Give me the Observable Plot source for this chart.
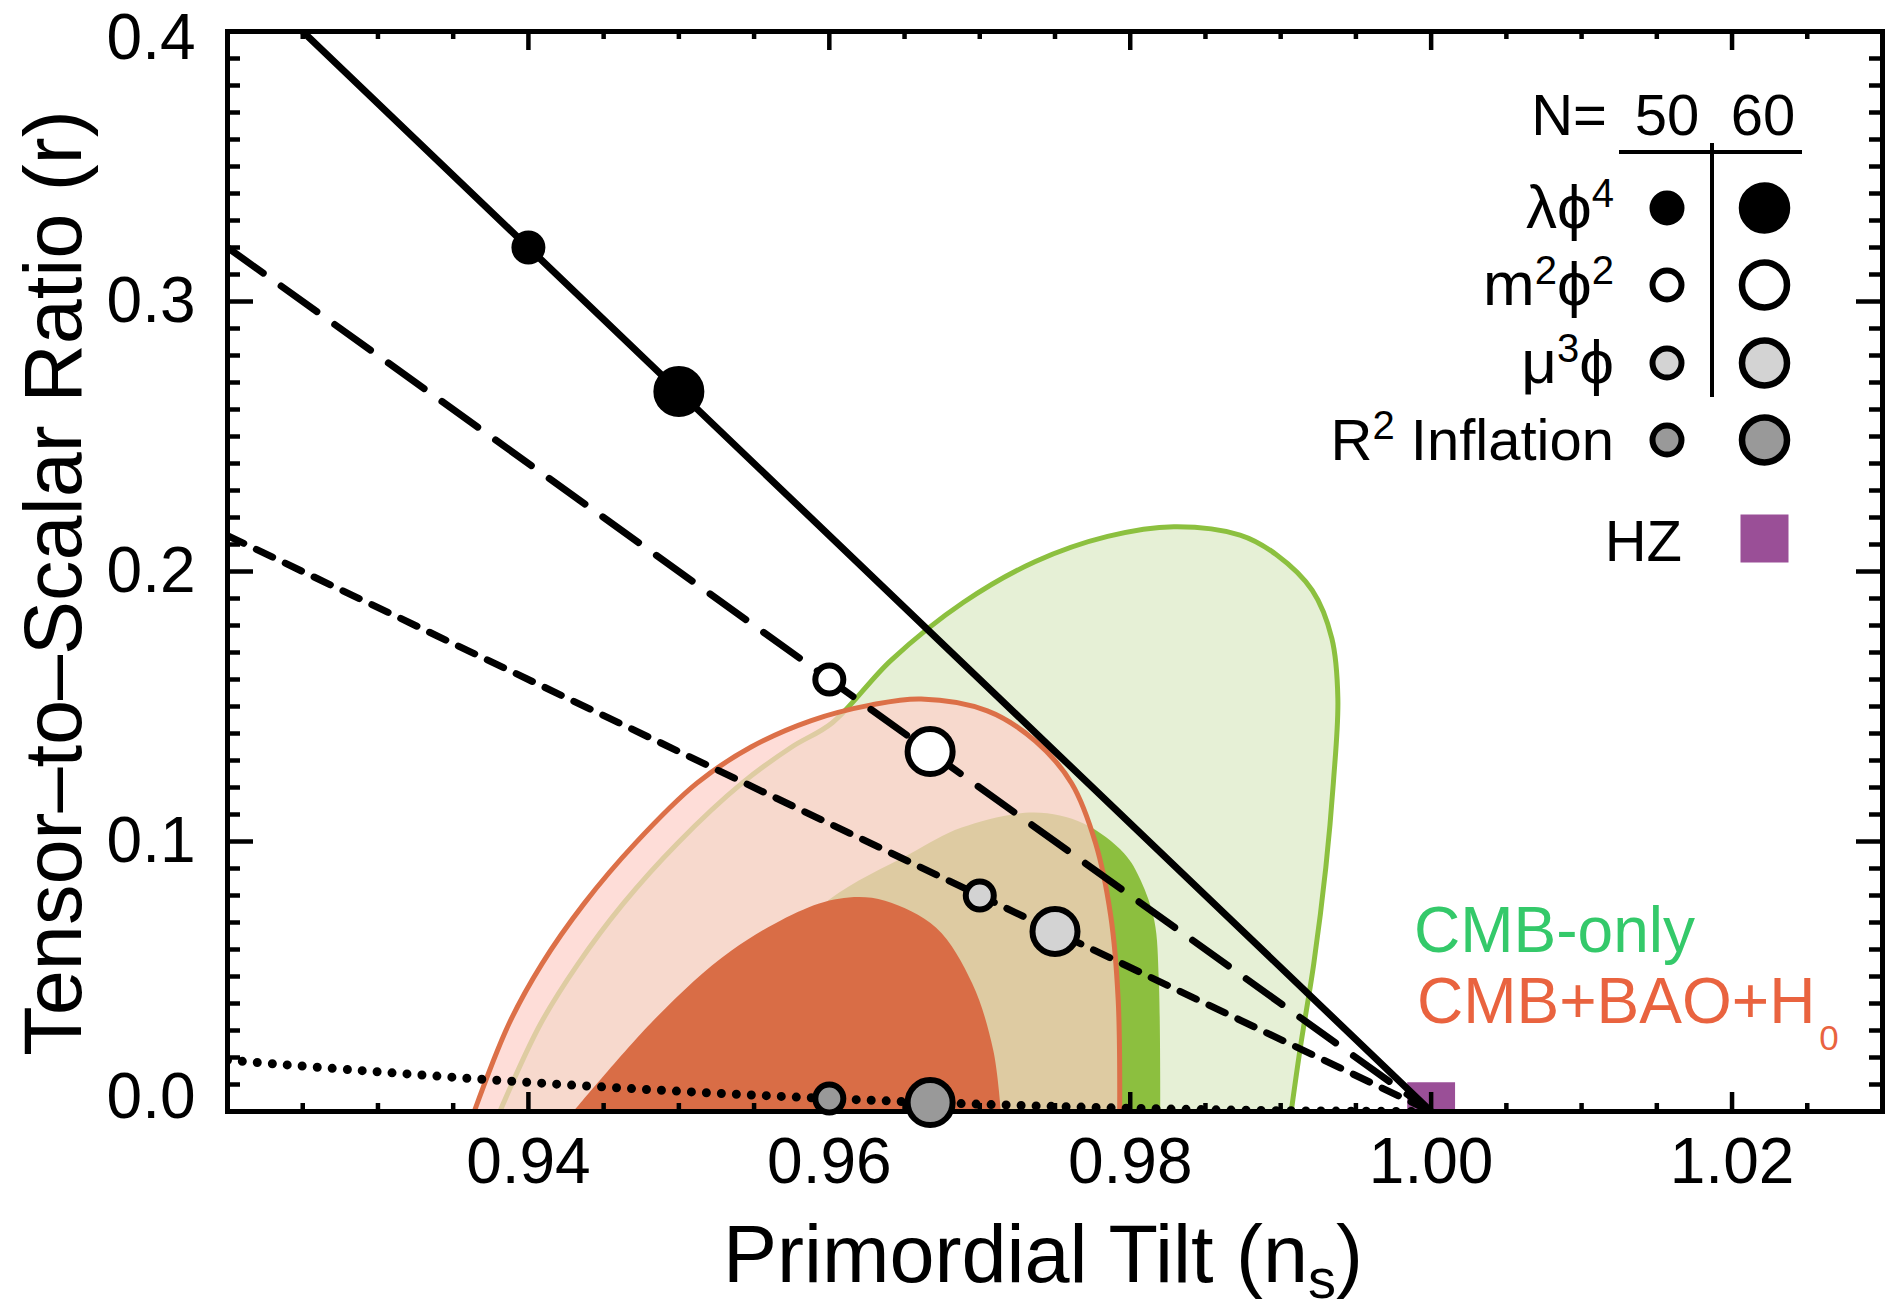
<!DOCTYPE html>
<html><head><meta charset="utf-8">
<script src="https://cdn.jsdelivr.net/npm/d3@7"></script>
<script src="https://cdn.jsdelivr.net/npm/@observablehq/plot@0.6"></script>
<style>
body{margin:0;background:#fff;}
#chart svg{display:block;}
</style></head><body><div id="chart"></div>
<script>
// ---- axes ----
const xDomain = [0.92, 1.03];
const yDomain = [0, 0.4];
const xMajor = [0.94, 0.96, 0.98, 1.00, 1.02];
const xLabels = ["0.94", "0.96", "0.98", "1.00", "1.02"];
const xMinor = [0.925, 0.93, 0.935, 0.945, 0.95, 0.955, 0.965, 0.97, 0.975, 0.985, 0.99, 0.995, 1.005, 1.01, 1.015, 1.025];
const yMajor = [0.1, 0.2, 0.3];
const yLabelVals = [0.0, 0.1, 0.2, 0.3, 0.4];
const yLabels = ["0.0", "0.1", "0.2", "0.3", "0.4"];
const yMinor = [0.01,0.02,0.03,0.04,0.05,0.06,0.07,0.08,0.09,0.11,0.12,0.13,0.14,0.15,0.16,0.17,0.18,0.19,0.21,0.22,0.23,0.24,0.25,0.26,0.27,0.28,0.29,0.31,0.32,0.33,0.34,0.35,0.36,0.37,0.38,0.39];

// ---- contours [ns, r] ----
const cmb95 = [[0.9381,0],[0.9408,0.0324],[0.9433,0.0547],[0.9463,0.077],[0.9499,0.0993],[0.9542,0.1216],[0.9575,0.135],[0.9602,0.1440],[0.9641,0.1671],[0.9689,0.1885],[0.9737,0.2037],[0.9785,0.2130],[0.9829,0.2166],[0.9873,0.2135],[0.9897,0.2063],[0.9921,0.1930],[0.9934,0.1752],[0.9938,0.1530],[0.9935,0.1216],[0.9930,0.0904],[0.9922,0.0548],[0.9913,0.0235],[0.9907,0]];
const cmb68 = [[0.9500,0],[0.9530,0.030],[0.9565,0.058],[0.9600,0.0785],[0.9654,0.0956],[0.9688,0.1052],[0.9736,0.1107],[0.9769,0.1067],[0.9796,0.0956],[0.9807,0.0856],[0.9816,0.0707],[0.9819,0.0485],[0.9820,0]];
const bao95 = [[0.9364,0],[0.9387,0.0324],[0.9409,0.0547],[0.9437,0.077],[0.9471,0.0993],[0.9512,0.1216],[0.9548,0.135],[0.9588,0.1448],[0.9628,0.1506],[0.9661,0.1528],[0.9705,0.1484],[0.9737,0.1372],[0.9761,0.1216],[0.9777,0.0993],[0.9787,0.0726],[0.9792,0.0413],[0.9793,0]];
const bao68 = [[0.9430,0],[0.9485,0.0348],[0.9535,0.0596],[0.9586,0.0756],[0.9613,0.0793],[0.9637,0.0781],[0.9671,0.0681],[0.9695,0.0474],[0.9709,0.0226],[0.9714,0]];

// ---- model lines [ns, r] ----
const linePhi4 = [[0.925,0.4],[1.0,0]];
const linePhi2 = [[0.92,0.32],[1.0,0]];
const linePhi1 = [[0.92,0.2133],[1.0,0]];
const lineR2 = [[0.92,0.019],[0.93,0.0147],[0.94,0.0108],[0.95,0.0075],[0.96,0.0048],[0.97,0.0027],[0.98,0.0012],[0.99,0.0003],[1.0,0]];

// ---- model points ----
const models = ["λϕ4", "m2ϕ2", "μ3ϕ", "R2"];
const modelFill = ["#000000", "#ffffff", "#d3d3d3", "#999999"];
const ns50 = [0.94, 0.96, 0.97, 0.96];
const r50 = [0.32, 0.16, 0.08, 0.0048];
const ns60 = [0.95, 0.9667, 0.975, 0.9667];
const r60 = [0.2667, 0.1333, 0.0667, 0.0033];
const hzPoint = [[1.0, 0.002]];

const W = 1888, H = 1310, mL = 227, mR = 6, mT = 31, mB = 199;
const frameW = W - mL - mR, frameH = H - mT - mB;
const FONT = "Liberation Sans, Helvetica, Arial, sans-serif";

const pts50 = models.map((m, i) => ({x: ns50[i], y: r50[i], fill: modelFill[i]}));
const pts60 = models.map((m, i) => ({x: ns60[i], y: r60[i], fill: modelFill[i]}));
const X = d => d[0], Y = d => d[1];

const chart = Plot.plot({
  width: W, height: H,
  marginLeft: mL, marginRight: mR, marginTop: mT, marginBottom: mB,
  x: {domain: xDomain, axis: null},
  y: {domain: yDomain, axis: null},
  color: {type: "identity"},
  style: {fontFamily: FONT, background: "#fff", color: "#000"},
  marks: [
    Plot.line(cmb95, {x: X, y: Y, fill: "#e6f0d6", stroke: "none", curve: "catmull-rom"}),
    Plot.line(cmb68, {x: X, y: Y, fill: "#8cbf3f", stroke: "none", curve: "catmull-rom"}),
    Plot.line(cmb95, {x: X, y: Y, fill: "none", stroke: "#8cc03f", strokeWidth: 5, curve: "catmull-rom"}),
    Plot.line(bao95, {x: X, y: Y, fill: "#fed0c9", fillOpacity: 0.72, stroke: "none", curve: "catmull-rom"}),
    Plot.line(bao95, {x: X, y: Y, fill: "none", stroke: "#dc7048", strokeWidth: 5, curve: "catmull-rom"}),
    Plot.line(bao68, {x: X, y: Y, fill: "#d96d46", stroke: "none", curve: "catmull-rom"}),
    Plot.dot(hzPoint, {x: X, y: Y, symbol: "square", r: 27, fill: "#9a4f97", stroke: "none", clip: true}),
    Plot.line(lineR2, {x: X, y: Y, stroke: "#000", strokeWidth: 9, strokeDasharray: "0 15", strokeLinecap: "round", curve: "catmull-rom", clip: true}),
    Plot.line(linePhi1, {x: X, y: Y, stroke: "#000", strokeWidth: 7, strokeDasharray: "18 14", clip: true}),
    Plot.line(linePhi2, {x: X, y: Y, stroke: "#000", strokeWidth: 7, strokeDasharray: "44 22", clip: true}),
    Plot.line(linePhi4, {x: X, y: Y, stroke: "#000", strokeWidth: 7, clip: true}),
    // ticks (inward)
    Plot.tickX(xMinor, {x: d => d, insetTop: frameH - 8, stroke: "#000", strokeWidth: 4.5}),
    Plot.tickX(xMajor, {x: d => d, insetTop: frameH - 19, stroke: "#000", strokeWidth: 4.5}),
    Plot.tickX(xMinor, {x: d => d, insetBottom: frameH - 8, stroke: "#000", strokeWidth: 4.5}),
    Plot.tickX(xMajor, {x: d => d, insetBottom: frameH - 19, stroke: "#000", strokeWidth: 4.5}),
    Plot.tickY(yMinor, {y: d => d, insetRight: frameW - 13, stroke: "#000", strokeWidth: 4.5}),
    Plot.tickY(yMajor, {y: d => d, insetRight: frameW - 26, stroke: "#000", strokeWidth: 4.5}),
    Plot.tickY(yMinor, {y: d => d, insetLeft: frameW - 13, stroke: "#000", strokeWidth: 4.5}),
    Plot.tickY(yMajor, {y: d => d, insetLeft: frameW - 26, stroke: "#000", strokeWidth: 4.5}),
    Plot.frame({stroke: "#000", strokeWidth: 5}),
    // tick labels
    Plot.text(xMajor, {x: d => d, text: (d, i) => xLabels[i], frameAnchor: "bottom", lineAnchor: "top", dy: 26, fontSize: 64, fill: "#000"}),
    Plot.text(yLabelVals.slice(1, 4), {y: d => d, text: (d, i) => yLabels[i + 1], frameAnchor: "left", textAnchor: "end", dx: -32, fontSize: 64, fill: "#000"}),
    Plot.text(yLabelVals.slice(4), {y: d => d, text: (d, i) => yLabels[i + 4], frameAnchor: "left", textAnchor: "end", dx: -32, dy: 7, fontSize: 64, fill: "#000"}),
    Plot.text(yLabelVals.slice(0, 1), {y: d => d, text: (d, i) => yLabels[i], frameAnchor: "left", textAnchor: "end", dx: -32, dy: -14, fontSize: 64, fill: "#000"}),
    // model points
    Plot.dot(pts50, {x: "x", y: "y", r: 14, fill: "fill", stroke: "#000", strokeWidth: 6}),
    Plot.dot(pts60, {x: "x", y: "y", r: 22.5, fill: "fill", stroke: "#000", strokeWidth: 6})
  ]
});
document.getElementById("chart").appendChild(chart);

// ---- titles, legend, annotations ----
const svg = d3.select(chart);
const g = svg.append("g").attr("font-family", FONT).attr("fill", "#000").attr("text-anchor", "start");

// x title
const xt = g.append("text").attr("x", 1043).attr("y", 1282).attr("text-anchor", "middle").attr("font-size", 81);
xt.append("tspan").text("Primordial Tilt (n");
xt.append("tspan").attr("font-size", 56).attr("dy", 16).text("s");
xt.append("tspan").attr("dy", -16).text(")");

// y title
g.append("text").attr("transform", "translate(81,583) rotate(-90)").attr("text-anchor", "middle").attr("font-size", 81)
  .text("Tensor–to–Scalar Ratio (r)");

// legend header
const LF = 58;
g.append("text").attr("x", 1607).attr("y", 135).attr("text-anchor", "end").attr("font-size", LF).text("N=");
g.append("text").attr("x", 1667).attr("y", 135).attr("text-anchor", "middle").attr("font-size", LF).text("50");
g.append("text").attr("x", 1763).attr("y", 135).attr("text-anchor", "middle").attr("font-size", LF).text("60");
g.append("line").attr("x1", 1619).attr("x2", 1802).attr("y1", 152).attr("y2", 152).attr("stroke", "#000").attr("stroke-width", 4);
g.append("line").attr("x1", 1712).attr("x2", 1712).attr("y1", 143).attr("y2", 397).attr("stroke", "#000").attr("stroke-width", 4);

const rowY = [208, 285, 363, 440];
const labelParts = [
  [["λϕ", 0], ["4", 1]],
  [["m", 0], ["2", 1], ["ϕ", 0], ["2", 1]],
  [["μ", 0], ["3", 1], ["ϕ", 0]],
  [["R", 0], ["2", 1], [" Inflation", 0]]
];
const SUP = 40, SUPDY = 21;
rowY.forEach((yy, i) => {
  const t = g.append("text").attr("x", 1614).attr("y", yy + 20).attr("text-anchor", "end").attr("font-size", i === 3 ? LF : 62);
  let sup = false;
  labelParts[i].forEach(([s, isSup]) => {
    const ts = t.append("tspan").text(s);
    if (isSup && !sup) { ts.attr("font-size", SUP).attr("dy", -SUPDY); sup = true; }
    else if (!isSup && sup) { ts.attr("dy", SUPDY); sup = false; }
    else if (isSup) ts.attr("font-size", SUP);
  });
  g.append("circle").attr("cx", 1667).attr("cy", yy).attr("r", 14.5).attr("fill", modelFill[i]).attr("stroke", "#000").attr("stroke-width", 6);
  g.append("circle").attr("cx", 1764.5).attr("cy", yy).attr("r", 22.5).attr("fill", modelFill[i]).attr("stroke", "#000").attr("stroke-width", 6.5);
});
g.append("text").attr("x", 1682).attr("y", 561).attr("text-anchor", "end").attr("font-size", LF).text("HZ");
g.append("rect").attr("x", 1740.5).attr("y", 514.5).attr("width", 48).attr("height", 48).attr("fill", "#9a4f97");

// dataset labels
g.append("text").attr("x", 1414).attr("y", 952).attr("text-anchor", "start").attr("font-size", 64).attr("fill", "#34c96a").text("CMB-only");
const bt = g.append("text").attr("x", 1417).attr("y", 1023).attr("text-anchor", "start").attr("font-size", 64).attr("fill", "#e9633f");
bt.append("tspan").text("CMB+BAO+H");
bt.append("tspan").attr("font-size", 35).attr("dy", 27).attr("dx", 4).text("0");
</script>
</body></html>
